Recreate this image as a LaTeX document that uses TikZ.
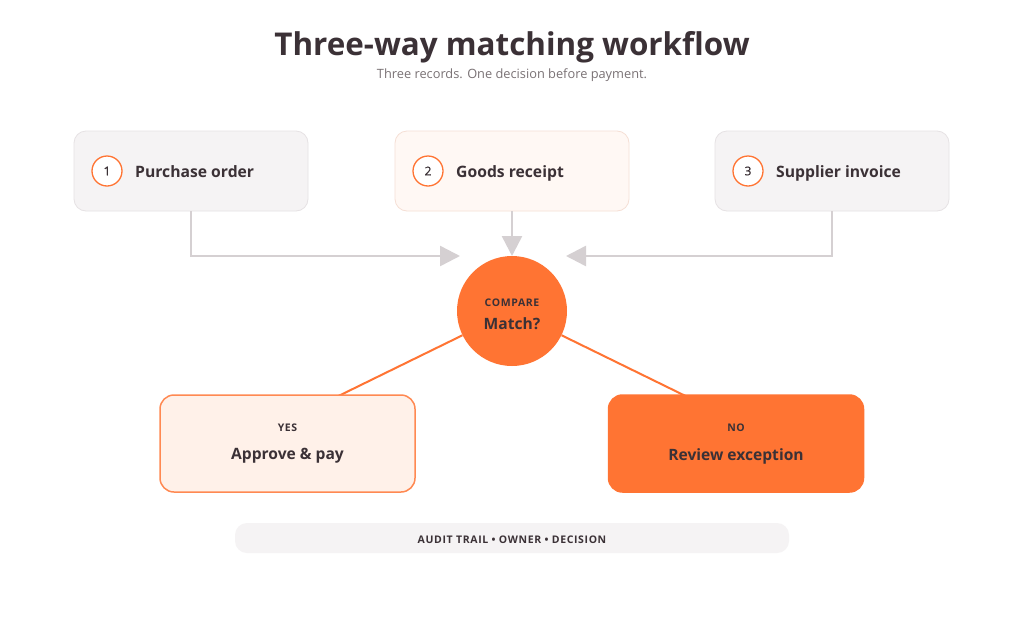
\documentclass[tikz,border=0pt]{standalone}
\usepackage{fontspec}
\setmainfont{Open Sans}
\newfontfamily\capsfont[LetterSpace=6]{Open Sans}
\newfontfamily\numfont[FakeBold=0.8]{Open Sans}
\usetikzlibrary{arrows.meta}
\definecolor{txt}{HTML}{3B3136}
\definecolor{sub}{HTML}{7A7275}
\definecolor{gfill}{HTML}{F5F3F4}
\definecolor{gline}{HTML}{E6E2E4}
\definecolor{pfill}{HTML}{FFF8F4}
\definecolor{pline}{HTML}{F5DFD5}
\definecolor{conn}{HTML}{D5D0D2}
\definecolor{org}{HTML}{FF7433}
\definecolor{yfill}{HTML}{FFF1E9}
\tikzset{
  card/.style={rectangle, rounded corners=12pt, minimum width=234pt, minimum height=80pt, line width=0.8pt},
  num/.style={circle, draw=org, line width=1.3pt, fill=white, minimum size=30pt, inner sep=0pt, text=txt, font=\numfont\fontsize{12}{14}\selectfont},
  lbl/.style={anchor=base west, text=txt, font=\bfseries\fontsize{15.7}{18}\selectfont, inner sep=0pt},
  gconn/.style={draw=conn, line width=2.5pt, -{Triangle[length=20pt,width=20pt]}},
  oconn/.style={draw=org, line width=2pt, -{Triangle[length=9pt,width=9pt]}},
  result/.style={rectangle, rounded corners=14pt, minimum width=255pt, minimum height=97pt, line width=1.5pt},
  smallcap/.style={text=txt, font=\capsfont\bfseries\fontsize{10.5}{12}\selectfont, inner sep=0pt},
  big/.style={text=txt, font=\bfseries\fontsize{15.6}{18}\selectfont, inner sep=0pt}
}
\begin{document}
\begin{tikzpicture}[x=1pt,y=-1pt]
\useasboundingbox[fill=white] (0,0) rectangle (1024,640);
% title
\node[text=txt, font=\bfseries\fontsize{31.4}{36}\selectfont, inner sep=0pt] (title) at (512,47) {Three-way matching workflow};
\node[text=sub, font=\fontsize{12.8}{15}\selectfont, inner sep=0pt] (subtitle) at (512,75.5) {Three records. One decision before payment.};
% cards
\node[card, fill=gfill, draw=gline] (po) at (191,171) {};
\node[card, fill=pfill, draw=pline] (gr) at (512,171) {};
\node[card, fill=gfill, draw=gline] (si) at (832,171) {};
\node[num] (n1) at (107,171) {1};
\node[num] (n2) at (428,171) {2};
\node[num] (n3) at (748,171) {3};
\node[lbl] (l1) at (135,177.5) {Purchase order};
\node[lbl] (l2) at (456,177.5) {Goods receipt};
\node[lbl] (l3) at (776,177.5) {Supplier invoice};
% compare
\node[circle, fill=org, minimum size=110pt, inner sep=0pt] (cmp) at (512,311) {};
\node[smallcap] (cmpcap) at (512,303) {COMPARE};
\node[big] (cmptxt) at (512,323.5) {Match?};
\coordinate (inL) at (460,256);
\coordinate (inR) at (566,256);
\coordinate (inT) at (512,256);
\draw[gconn] (po.south) |- (inL);
\draw[gconn] (gr.south) -- (inT);
\draw[gconn] (si.south) |- (inR);
\coordinate (tipL) at (318,406);
\coordinate (tipR) at (706,406);
\draw[oconn] (cmp) -- (tipL);
\draw[oconn] (cmp) -- (tipR);
% results
\node[result, fill=yfill, draw=org!85] (yes) at (287.5,443.5) {};
\node[result, fill=org, draw=org] (no) at (736,443.5) {};
\node[smallcap] (yescap) at (287.5,428) {YES};
\node[big] (yestxt) at (287.5,456) {Approve \& pay};
\node[smallcap] (nocap) at (736,428) {NO};
\node[big] (notxt) at (736,456) {Review exception};
% audit bar
\node[rectangle, rounded corners=12pt, fill=gfill, minimum width=554pt, minimum height=30pt, inner sep=0pt] (audit) at (512,538) {};
\node[text=txt, font=\capsfont\bfseries\fontsize{10.5}{12}\selectfont, inner sep=0pt] (audittxt) at (512,540) {AUDIT TRAIL • OWNER • DECISION};
\end{tikzpicture}
\end{document}
